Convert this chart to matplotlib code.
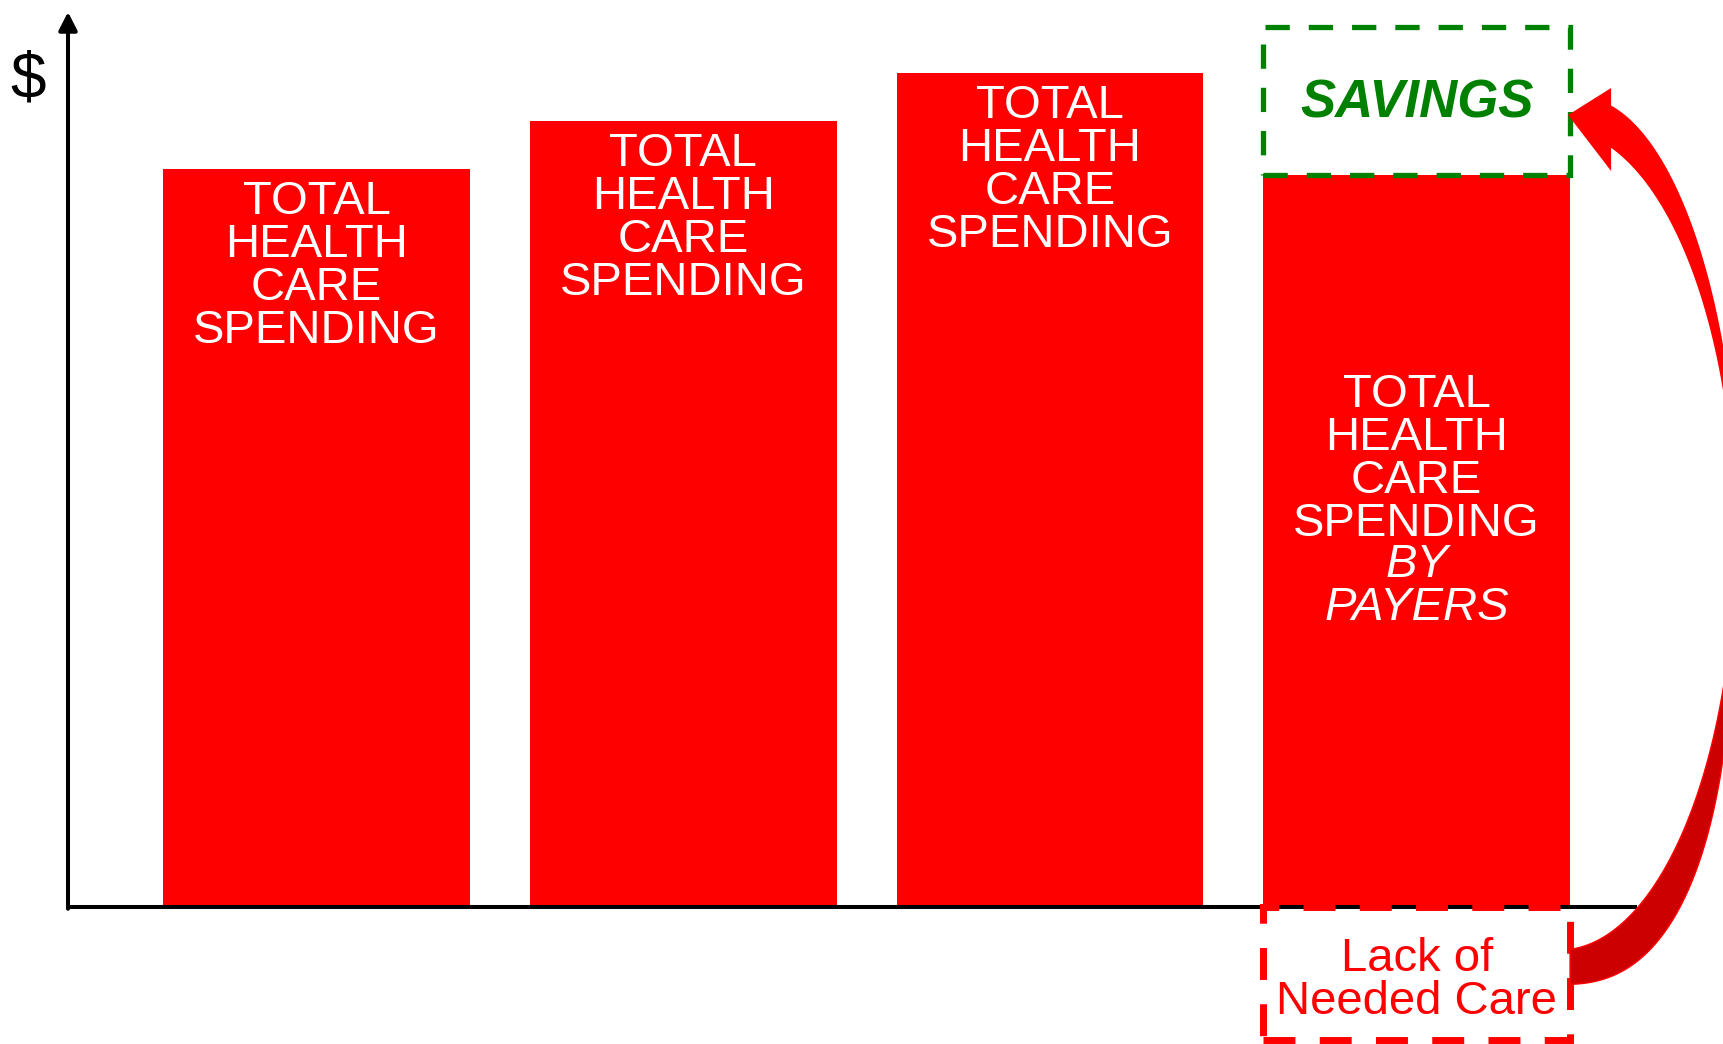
import numpy as np
import matplotlib
matplotlib.use("Agg")
import matplotlib.pyplot as plt
from matplotlib.patches import Rectangle, Polygon
from matplotlib.transforms import IdentityTransform

# spending levels in arbitrary units (the $ axis has no scale)
scenarios = ["A", "B", "C", "D"]
spending = [7.38, 7.86, 8.34, 7.32]
savings = 1.48
unmet_care = 1.33

bar_label = "TOTAL\nHEALTH\nCARE\nSPENDING"
payer_label = "BY\nPAYERS"
savings_label = "SAVINGS"
unmet_label = "Lack of\nNeeded Care"

RED = "#FF0000"
DARK_RED = "#CC0000"
GREEN = "#008000"
FONT = ["Liberation Sans", "DejaVu Sans"]
LS = 0.975

W, H = 1723, 1044
fig = plt.figure(figsize=(W / 100, H / 100), dpi=100)
ax = fig.add_axes([68 / W, (H - 907) / H, (1637 - 68) / W, (907 - 12) / H])

x = np.arange(len(scenarios))
width = 0.837
ax.set_xlim(-0.678, 3.601)
ax.set_ylim(0, 8.95)
ax.axis("off")

ax.bar(x, spending, width=width, color=RED, zorder=2)

# axes drawn by hand: plain x line, arrow on the $ axis
ax.plot([0, 1], [0, 0], transform=ax.transAxes, color="k", lw=2.9,
        clip_on=False, solid_capstyle="butt", zorder=3)
ax.annotate("", xy=(0, 1), xytext=(0, -0.002), xycoords="axes fraction",
            arrowprops=dict(arrowstyle="-|>,head_length=0.55,head_width=0.28",
                            color="k", lw=2.9, shrinkA=0, shrinkB=0,
                            mutation_scale=20))
fig.text(28 / W, 1 - 80 / H, "$", fontsize=46, ha="center", va="center",
         family=FONT)

# labels inside the bars
for xi, h in zip(x[:3], spending[:3]):
    ax.text(xi, h - 0.11, bar_label, ha="center", va="top", color="white",
            fontsize=34, family=FONT, linespacing=LS, zorder=4)

y4 = spending[3] * 0.73
ax.text(x[3], y4, bar_label, ha="center", va="top", color="white",
        fontsize=34, family=FONT, linespacing=LS, zorder=4)
ax.annotate(payer_label, xy=(x[3], y4), xytext=(0, -4 * 30.6),
            textcoords="offset points", ha="center", va="top", color="white",
            fontsize=34, family=FONT, style="italic", linespacing=LS,
            zorder=4)

# savings box on top of the last bar
ax.add_patch(Rectangle((x[3] - width / 2, spending[3]), width, savings,
                       fill=False, ec=GREEN, lw=3.8, ls=(0, (4.6, 3.6)),
                       clip_on=False, zorder=3))
ax.text(x[3], spending[3] + savings / 2 - 0.16, savings_label, ha="center",
        va="baseline", color=GREEN, fontsize=38, weight="bold",
        style="italic", family=FONT, zorder=4)

# unmet care box below the axis
ax.add_patch(Rectangle((x[3] - width / 2, -unmet_care), width, unmet_care,
                       fill=False, ec=RED, lw=5, ls=(0, (4.6, 3.5)),
                       clip_on=False, zorder=4))
ax.text(x[3], -0.30, unmet_label, ha="center", va="top", color=RED,
        fontsize=34, family=FONT, linespacing=LS, zorder=4)


# curved arrow from the unmet-care box up to the savings box (pixel space)
def arc(cx, cy, a, b, t, p=2.0):
    s, c = np.sin(t), np.cos(t)
    return np.column_stack([cx + a * np.sign(s) * np.abs(s) ** (2 / p),
                            cy + b * np.sign(c) * np.abs(c) ** (2 / p)])


bx, yt = ax.transData.transform((x[3] + width / 2, spending[3] + savings / 2))
_, yb = ax.transData.transform((x[3] + width / 2, -unmet_care / 2))

outer_up = arc(bx + 10, yt - 446, 160, 450,
               np.linspace(np.arcsin(31 / 160), np.pi / 2, 80))
inner_up = arc(bx - 10, yt - 439, 175, 410,
               np.linspace(np.pi / 2, np.arcsin(51 / 175), 80))
head_tip = [(bx - 2, yt - 14), (bx + 41, yt + 13)]
head_low = [(bx + 41, yt - 70)]
upper = np.vstack([head_tip, outer_up, inner_up, head_low])

outer_low = arc(bx - 10, yb + 415, 174, 426,
                np.linspace(np.pi / 2, np.pi - 0.0282, 100), p=2.5)
inner_low = arc(bx - 10, yt - 439, 175, 410,
                np.linspace(np.pi - 0.0572, np.pi / 2, 100))
lower = np.vstack([outer_low, inner_low])

fig.add_artist(Polygon(lower, closed=True, fc=DARK_RED, ec=RED, lw=1,
                       transform=IdentityTransform()))
fig.add_artist(Polygon(upper, closed=True, fc=RED, ec="none",
                       transform=IdentityTransform()))

fig.savefig("out.png", dpi=100)
